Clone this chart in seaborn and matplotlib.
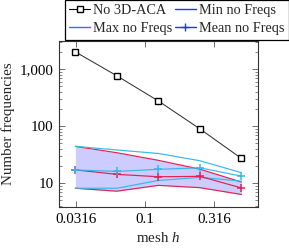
import numpy as np
import pandas as pd
import matplotlib
matplotlib.use("Agg")
import matplotlib.pyplot as plt
from matplotlib.lines import Line2D
import seaborn as sns

# ---- data ----
mesh_h = [1/32, 1/16, 1/8, 1/4, 1/2]
no_aca = [2000, 760, 275, 89, 27]
red_max = [44, 34, 25, 17.5, 10.4]
red_min = [8.1, 7.2, 9.1, 8.3, 6.3]
red_mean = [17, 14.2, 12.9, 13.1, 8.2]
cyan_max = [44, 38, 33, 24.6, 15.2]
cyan_min = [8.1, 8.1, 11.1, 12.6, 10.8]
cyan_mean = [17, 16, 17.4, 18.5, 13.2]

xticks = [0.0316, 0.1, 0.316]
xticklabels = ["0.0316", "0.1", "0.316"]
yticks = [10, 100, 1000]
yticklabels = ["10", "100", "1,000"]

sns.set_theme(style="ticks")
plt.rcParams["font.family"] = ["Liberation Serif", "DejaVu Serif"]
plt.rcParams["mathtext.fontset"] = "custom"
plt.rcParams["mathtext.rm"] = "Liberation Serif"
plt.rcParams["mathtext.it"] = "Liberation Serif:italic"

FS = 10.8
LFS = 10.3

fig = plt.figure(figsize=(2.89, 2.5), dpi=100)
ax = fig.add_axes([59/289, 1 - 207/250, (258 - 59)/289, (207 - 41)/250])

df = pd.DataFrame({
    "h": mesh_h, "no_aca": no_aca,
    "red_max": red_max, "red_min": red_min, "red_mean": red_mean,
    "cyan_max": cyan_max, "cyan_min": cyan_min, "cyan_mean": cyan_mean,
})

RED = "#E3204E"
CYAN = "#38B6EC"
LW = 0.85

ax.fill_between(df["h"], df["red_min"], df["red_max"], color="#CCCCFF", lw=0, zorder=1)

sns.lineplot(data=df, x="h", y="red_max", ax=ax, color=RED, lw=LW, zorder=3)
sns.lineplot(data=df, x="h", y="red_min", ax=ax, color=RED, lw=LW, zorder=3)
sns.lineplot(data=df, x="h", y="red_mean", ax=ax, color=RED, lw=LW, marker="+",
             markersize=6, markeredgewidth=1.1, markeredgecolor=RED, zorder=4)
sns.lineplot(data=df, x="h", y="cyan_max", ax=ax, color=CYAN, lw=LW, zorder=3)
sns.lineplot(data=df, x="h", y="cyan_min", ax=ax, color=CYAN, lw=LW, zorder=3)
sns.lineplot(data=df, x="h", y="cyan_mean", ax=ax, color=CYAN, lw=LW, marker="+",
             markersize=6, markeredgewidth=1.1, markeredgecolor=CYAN, zorder=4)
sns.lineplot(data=df, x="h", y="no_aca", ax=ax, color="#333333", lw=0.75, marker="s",
             markersize=5, markerfacecolor="white", markeredgecolor="black",
             markeredgewidth=1.0, zorder=5)

ax.set_xscale("log")
ax.set_yscale("log")
ax.set_xlim(0.0238, 0.659)
ax.set_ylim(3.8, 3100)
ax.set_xticks(xticks)
ax.set_xticklabels(xticklabels)
ax.xaxis.set_minor_locator(matplotlib.ticker.NullLocator())
ax.set_yticks(yticks)
ax.set_yticklabels(yticklabels)
ax.yaxis.set_minor_locator(matplotlib.ticker.LogLocator(base=10, subs=np.arange(2, 10)))
ax.yaxis.set_minor_formatter(matplotlib.ticker.NullFormatter())

ax.tick_params(which="both", direction="in", top=True, right=True, labelsize=FS,
               colors="#555555", labelcolor="black")
ax.tick_params(which="major", length=4, width=0.6, pad=4)
ax.tick_params(which="minor", length=2, width=0.5)
for s in ax.spines.values():
    s.set_linewidth(0.8)
    s.set_color("#333333")

ax.set_xlabel("mesh $h$", fontsize=FS, labelpad=4)
ax.set_ylabel("Number frequencies", fontsize=FS, labelpad=3)

handles = [
    Line2D([], [], color="black", lw=0.8, marker="s", markersize=5,
           markerfacecolor="white", markeredgewidth=1.0),
    Line2D([], [], color="#4466FF", lw=1.0),
    Line2D([], [], color="#2233FF", lw=1.0),
    Line2D([], [], color="#2233FF", lw=1.0, marker="+", markersize=6, markeredgewidth=1.0),
]
labels = ["No 3D-ACA", "Max no Freqs", "Min no Freqs", "Mean no Freqs"]
leg = fig.legend(handles, labels, loc="upper right", bbox_to_anchor=(1.0, 1.0),
                 ncol=2, fontsize=LFS, frameon=True, fancybox=False, framealpha=1,
                 edgecolor="black", handlelength=1.45, handletextpad=0.25,
                 columnspacing=0.15, labelspacing=0.35, borderpad=0.3, borderaxespad=0.0)
leg.get_frame().set_linewidth(0.9)
leg.set_zorder(10)

fig.savefig("out.png", dpi=100)
